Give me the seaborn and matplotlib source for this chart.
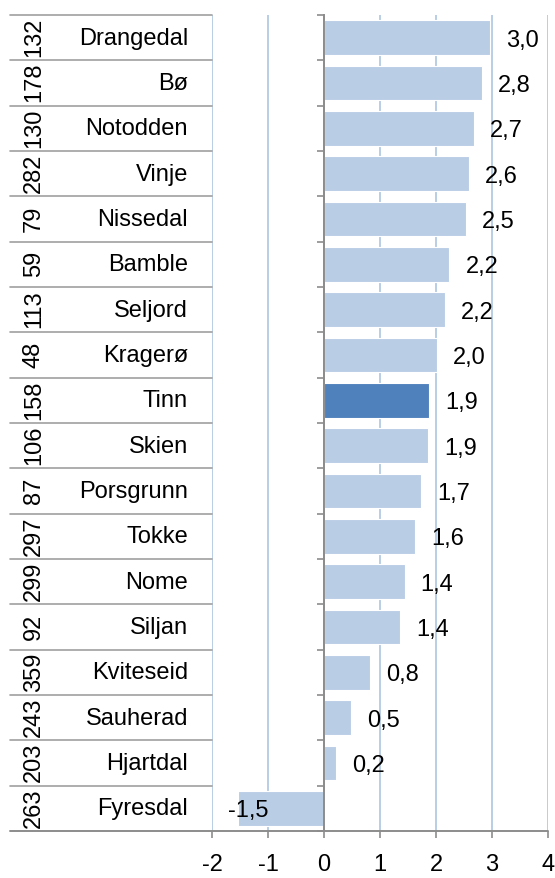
import numpy as np
import pandas as pd
import seaborn as sns
from matplotlib import pyplot as plt

# %%
kommuner = ["Drangedal", "Bø", "Notodden", "Vinje", "Nissedal", "Bamble", "Seljord",
            "Kragerø", "Tinn", "Skien", "Porsgrunn", "Tokke", "Nome", "Siljan",
            "Kviteseid", "Sauherad", "Hjartdal", "Fyresdal"]
rangering = [132, 178, 130, 282, 79, 59, 113, 48, 158, 106, 87, 297, 299, 92, 359, 243, 203, 263]
verdi = [2.96, 2.82, 2.67, 2.59, 2.54, 2.24, 2.16, 2.01, 1.88, 1.86, 1.74, 1.63,
         1.44, 1.36, 0.83, 0.48, 0.21, -1.53]
x_ticks = [-2, -1, 0, 1, 2, 3, 4]
uthevet = "Tinn"

df = pd.DataFrame({"kommune": kommuner, "rang": rangering, "verdi": verdi})

# %%
sns.set_style("white")
plt.rcParams['font.family'] = ['Liberation Sans', 'DejaVu Sans']
plt.rcParams['text.color'] = 'black'
plt.rcParams['xtick.color'] = 'black'

lys = "#B9CDE5"
mork = "#4F81BD"
grid_col = "#B9CDE5"
akse_col = "#8C8C8C"
fs = 17

W, H = 555, 879
fig = plt.figure(figsize=(W / 100, H / 100), dpi=100)
x0, x1 = 212, 548
y0, y1 = 16, 832
ax = fig.add_axes([x0 / W, 1 - y1 / H, (x1 - x0) / W, (y1 - y0) / H])

palette = {k: (mork if k == uthevet else lys) for k in kommuner}
sns.barplot(data=df, x="verdi", y="kommune", hue="kommune", palette=palette,
            orient="h", width=0.76, legend=False, ax=ax, saturation=1,
            edgecolor="white", linewidth=0.8)

n = len(kommuner)
ax.set_xlim(-2, 4)
ax.set_ylim(n - 0.5, -0.5)
ax.set_xticks(x_ticks)
ax.set_xticklabels([str(t) for t in x_ticks], fontsize=fs)
ax.set_xlabel("")
ax.set_ylabel("")

ax.grid(False)
for t in x_ticks:
    ax.axvline(t, color=grid_col, lw=1.4, zorder=0)

for s in ["top", "right"]:
    ax.spines[s].set_visible(False)
ax.spines["left"].set_position(("data", 0))
ax.spines["left"].set_color(akse_col)
ax.spines["left"].set_linewidth(1.4)
ax.spines["left"].set_zorder(3)
ax.spines["bottom"].set_visible(False)

# y ticks on category boundaries
ax.set_yticks([])
ax.set_yticks(np.arange(-0.5, n, 1), minor=True)
ax.tick_params(axis="y", which="minor", direction="out", length=5, width=1.2,
               color=akse_col, left=True, labelleft=False)
ax.tick_params(axis="x", direction="out", length=5, width=1.2, color=akse_col,
               pad=11, bottom=True)

# table lines on the left and the bottom axis line
venstre = (10 - x0) / (x1 - x0)
trans = ax.get_yaxis_transform()
for b in np.arange(-0.5, n - 0.5, 1):
    ax.plot([venstre, 0], [b, b], transform=trans, color="#A0A0A0", lw=1.2,
            clip_on=False, zorder=3)
ax.plot([venstre, 1], [n - 0.5, n - 0.5], transform=trans, color=akse_col, lw=1.4,
        clip_on=False, zorder=3)

navn_x = (188 - x0) / (x1 - x0)
rang_x = (34 - x0) / (x1 - x0)
for i, row in df.iterrows():
    ax.text(navn_x, i, row["kommune"], transform=trans, ha="right", va="center",
            fontsize=fs)
    ax.text(rang_x, i - 0.03, str(row["rang"]), transform=trans, ha="center",
            va="center", rotation=90, fontsize=fs)
    lab = f"{row['verdi']:.1f}".replace(".", ",")
    if row["verdi"] >= 0:
        ax.annotate(lab, xy=(row["verdi"], i), xytext=(16, -2),
                    textcoords="offset pixels", ha="left", va="center", fontsize=fs)
    else:
        ax.annotate(lab, xy=(ax.get_xlim()[0], i), xytext=(16, -2),
                    textcoords="offset pixels", ha="left", va="center", fontsize=fs)

fig.savefig("out.png", dpi=100)
